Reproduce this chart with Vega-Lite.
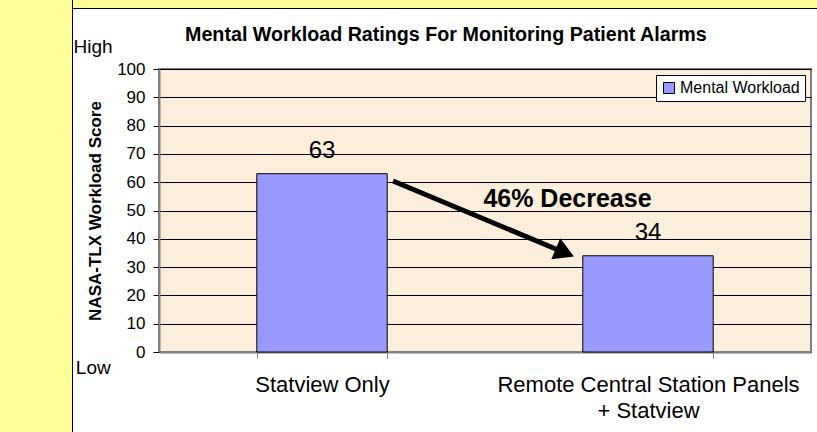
{
  "$schema": "https://vega.github.io/schema/vega-lite/v6.json",
  "width": 652,
  "height": 283,
  "autosize": {"type": "none"},
  "padding": {"left": 159, "top": 69, "right": 6, "bottom": 80},
  "background": "white",
  "config": {
    "font": "Liberation Sans",
    "view": {"fill": "#FBEEDB", "stroke": "#808080", "strokeWidth": 2},
    "axis": {"labelFont": "Liberation Sans", "titleFont": "Liberation Sans", "labelColor": "black", "titleColor": "black"},
    "axisY": {
      "titleFontSize": 17, "titleFontWeight": "bold", "titlePadding": 12,
      "labelFontSize": 17, "labelPadding": 8, "tickSize": 6, "tickColor": "black", "tickWidth": 1,
      "domainColor": "#808080", "domainWidth": 2, "grid": true, "gridColor": "black", "gridWidth": 1, "gridOpacity": 1
    },
    "text": {"font": "Liberation Sans", "color": "black"}
  },
  "datasets": {
    "bars": [
      {"cond": "Statview Only", "score": 63, "series": "Mental Workload"},
      {"cond": "Remote Central Station Panels|+ Statview", "score": 34, "series": "Mental Workload"}
    ],
    "frame": [
      {"x": -3, "x2": -0.2653, "y": -300, "y2": 400},
      {"x": -0.2653, "x2": 3, "y": 121.38, "y2": 400}
    ],
    "arrow": [{"x": 0.718, "y": 60.4, "x2": 1.221, "y2": 36.2}],
    "head": [{"x": 1.245, "y": 35.1}],
    "decrease": [{"x": 1.253, "y": 51.3, "label": "46% Decrease"}],
    "side": [
      {"x": -0.262, "y": 105.5, "label": "High"},
      {"x": -0.255, "y": -7.8, "label": "Low"}
    ],
    "title": [{"x": 0.88, "y": 110.0, "label": "Mental Workload Ratings For Monitoring Patient Alarms"}]
  },
  "layer": [
    {
      "data": {"name": "frame"},
      "mark": {"type": "rect", "fill": "#FFFF99", "stroke": "black", "strokeWidth": 1},
      "encoding": {
        "x": {"field": "x", "type": "quantitative", "scale": {"domain": [0, 2], "nice": false, "zero": false}, "axis": null},
        "x2": {"field": "x2"},
        "y": {"field": "y", "type": "quantitative", "scale": {"domain": [0, 100], "nice": false}, "axis": {"values": [0, 10, 20, 30, 40, 50, 60, 70, 80, 90, 100], "title": "NASA-TLX Workload Score"}},
        "y2": {"field": "y2"}
      }
    },
    {
      "data": {"name": "bars"},
      "encoding": {
        "x": {
          "field": "cond", "type": "nominal", "sort": null,
          "scale": {"paddingInner": 0.6, "paddingOuter": 0.3},
          "axis": {
            "title": null, "labelAngle": 0, "labelFontSize": 22, "labelExpr": "split(datum.label, '|')",
            "labelLineHeight": 26, "labelPadding": 16, "labelLimit": 500, "tickBand": "extent",
            "tickColor": "#808080", "tickSize": 6, "tickWidth": 1, "domainColor": "#808080", "domainWidth": 2, "grid": false
          }
        },
        "y": {
          "field": "score", "type": "quantitative", "scale": {"domain": [0, 100], "nice": false},
          "axis": {"values": [0, 10, 20, 30, 40, 50, 60, 70, 80, 90, 100], "title": "NASA-TLX Workload Score"}
        }
      },
      "layer": [
        {
          "mark": {"type": "bar", "stroke": "black", "strokeWidth": 1, "opacity": 1},
          "encoding": {
            "color": {
              "field": "series", "type": "nominal",
              "scale": {"domain": ["Mental Workload"], "range": ["#9999FF"]},
              "legend": {
                "title": null, "orient": "top-right", "offset": 6, "fillColor": "white", "strokeColor": "black",
                "padding": 5, "symbolType": "square", "symbolSize": 121, "symbolStrokeColor": "black",
                "symbolStrokeWidth": 1, "symbolOpacity": 1, "labelFontSize": 16, "labelFont": "Liberation Sans",
                "labelColor": "black", "labelOffset": 3
              }
            }
          }
        },
        {
          "mark": {"type": "text", "fontSize": 24, "dy": -16, "baseline": "alphabetic", "align": "center"},
          "encoding": {"text": {"field": "score", "type": "quantitative"}}
        }
      ]
    },
    {
      "data": {"name": "arrow"},
      "mark": {"type": "rule", "stroke": "black", "strokeWidth": 5, "strokeCap": "butt"},
      "encoding": {
        "x": {"field": "x", "type": "quantitative", "scale": {"domain": [0, 2], "nice": false, "zero": false}, "axis": null},
        "x2": {"field": "x2"},
        "y": {"field": "y", "type": "quantitative", "scale": {"domain": [0, 100], "nice": false}, "axis": {"values": [0, 10, 20, 30, 40, 50, 60, 70, 80, 90, 100], "title": "NASA-TLX Workload Score"}},
        "y2": {"field": "y2"}
      }
    },
    {
      "data": {"name": "head"},
      "mark": {"type": "point", "shape": "triangle-right", "filled": true, "fill": "black", "stroke": null, "size": 520, "angle": 23, "opacity": 1},
      "encoding": {
        "x": {"field": "x", "type": "quantitative", "scale": {"domain": [0, 2], "nice": false, "zero": false}, "axis": null},
        "y": {"field": "y", "type": "quantitative", "scale": {"domain": [0, 100], "nice": false}, "axis": {"values": [0, 10, 20, 30, 40, 50, 60, 70, 80, 90, 100], "title": "NASA-TLX Workload Score"}}
      }
    },
    {
      "data": {"name": "decrease"},
      "mark": {"type": "text", "fontSize": 25, "fontWeight": "bold", "align": "center", "baseline": "alphabetic"},
      "encoding": {
        "x": {"field": "x", "type": "quantitative", "scale": {"domain": [0, 2], "nice": false, "zero": false}, "axis": null},
        "y": {"field": "y", "type": "quantitative", "scale": {"domain": [0, 100], "nice": false}, "axis": {"values": [0, 10, 20, 30, 40, 50, 60, 70, 80, 90, 100], "title": "NASA-TLX Workload Score"}},
        "text": {"field": "label"}
      }
    },
    {
      "data": {"name": "side"},
      "mark": {"type": "text", "fontSize": 19, "align": "left", "baseline": "alphabetic"},
      "encoding": {
        "x": {"field": "x", "type": "quantitative", "scale": {"domain": [0, 2], "nice": false, "zero": false}, "axis": null},
        "y": {"field": "y", "type": "quantitative", "scale": {"domain": [0, 100], "nice": false}, "axis": {"values": [0, 10, 20, 30, 40, 50, 60, 70, 80, 90, 100], "title": "NASA-TLX Workload Score"}},
        "text": {"field": "label"}
      }
    },
    {
      "data": {"name": "title"},
      "mark": {"type": "text", "fontSize": 19.7, "fontWeight": "bold", "align": "center", "baseline": "alphabetic"},
      "encoding": {
        "x": {"field": "x", "type": "quantitative", "scale": {"domain": [0, 2], "nice": false, "zero": false}, "axis": null},
        "y": {"field": "y", "type": "quantitative", "scale": {"domain": [0, 100], "nice": false}, "axis": {"values": [0, 10, 20, 30, 40, 50, 60, 70, 80, 90, 100], "title": "NASA-TLX Workload Score"}},
        "text": {"field": "label"}
      }
    }
  ],
  "resolve": {"scale": {"x": "independent"}, "axis": {"x": "independent"}}
}
